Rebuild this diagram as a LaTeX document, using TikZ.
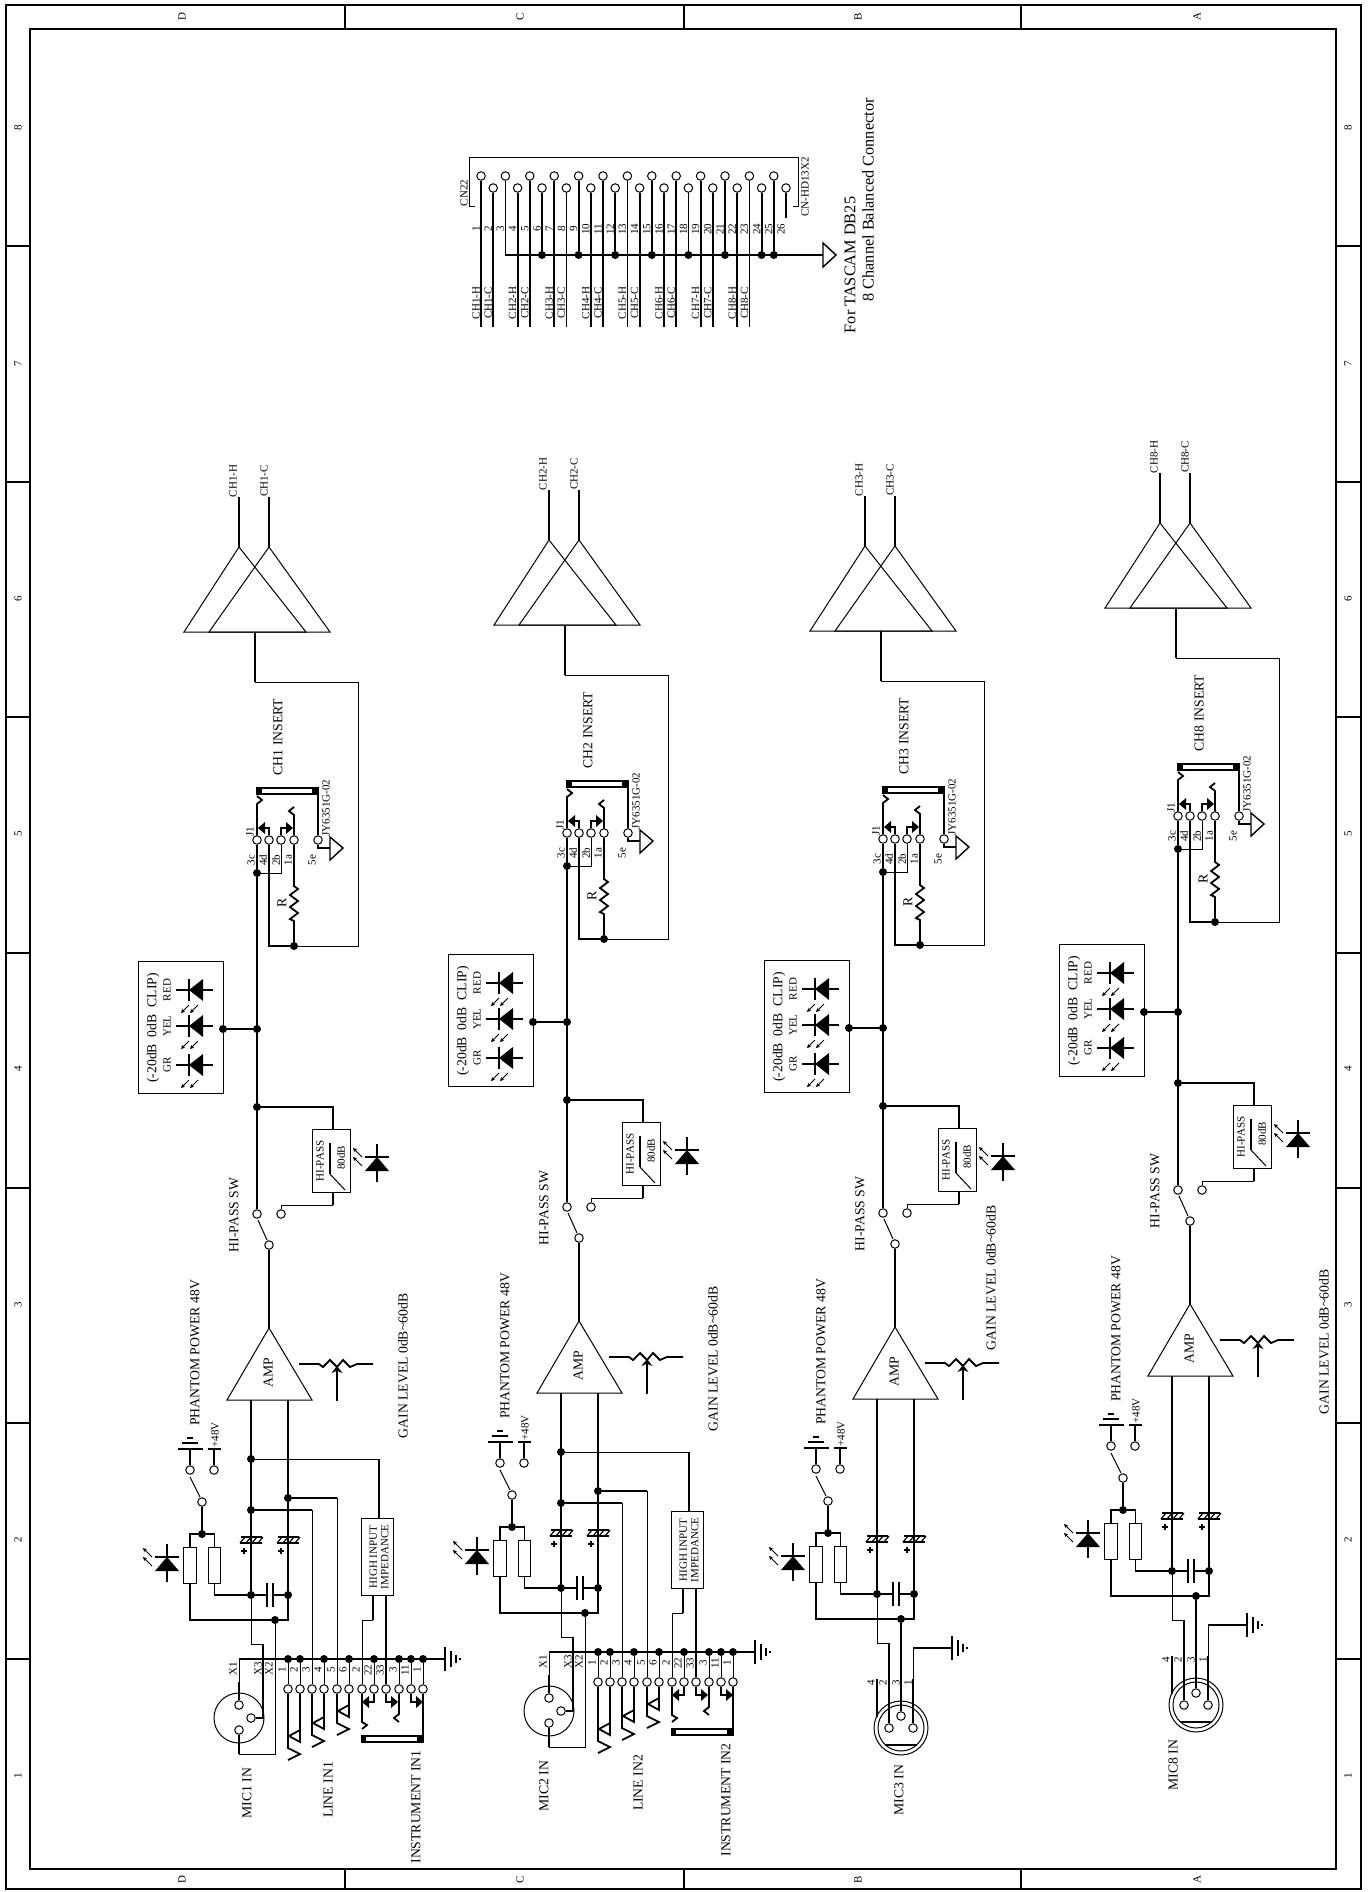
\documentclass[tikz,border=0pt]{standalone}
\usepackage{fontspec}
\setmainfont{Liberation Serif}
\usepackage{tikz}
\usetikzlibrary{arrows.meta}

\tikzset{
    wire/.style={line width=1.8pt},
    thinw/.style={line width=1pt},
    pinc/.style={circle,draw,line width=1pt,fill=white,minimum size=8.5pt,inner sep=0pt},
    jdot/.style={circle,fill=black,minimum size=8pt,inner sep=0pt},
    boxn/.style={draw,line width=0.9pt,inner sep=0pt},
    lab/.style={rotate=90,inner sep=0pt,font=\fontsize{13.7}{14}\selectfont},
    slab/.style={rotate=90,inner sep=0pt,align=center,font=\fontsize{11}{11.5}\selectfont},
    ray/.style={line width=1pt,-{Stealth[length=4pt,width=4pt]}}
}

% diode with its stem upright, light going up and to the left
\newcommand{\sideled}[2]{
    \begin{scope}[shift={(#1,#2)}]
        \draw[wire] (0,-13) -- (0,25);
        \draw[wire] (-12,0) -- (12,0);
        \fill (-12,14) -- (12,14) -- (0,0) -- cycle;
        \draw[ray] (-15,0) -- (-24,-9);
        \draw[ray] (-15,9) -- (-24,0);
    \end{scope}
}
% diode of the level meter, light going down and to the left
\newcommand{\meterled}[2]{
    \begin{scope}[shift={(#1,#2)}]
        \draw[wire] (-13,0) -- (24,0);
        \draw[wire] (0,-11) -- (0,11);
        \fill (0,0) -- (14,-11) -- (14,11) -- cycle;
        \draw[ray] (0,15) -- (-8,23);
        \draw[ray] (9,15) -- (1,23);
    \end{scope}
}
\newcommand{\gndright}[2]{
    \draw[wire] (#1,#2-12) -- (#1,#2+12);
    \draw[wire] (#1+6,#2-8) -- (#1+6,#2+8);
    \draw[wire] (#1+11,#2-4) -- (#1+11,#2+4);
    \draw[wire] (#1+15,#2-1) -- (#1+15,#2+1);
}
\newcommand{\polcap}[1]{
    \draw[wire] (#1-11,1543) -- (#1+11,1543);
    \draw[line width=1.4pt] (#1-10,1537) -- (#1+11,1537);
    \foreach \h in {-9,-3,3,9} \draw[line width=1.2pt] (#1+\h-2,1543) -- (#1+\h+3,1537);
    \draw[wire] (#1-10,1551) -- (#1-4,1551);
    \draw[wire] (#1-7,1548) -- (#1-7,1554);
}

% output stage, insert jack, meter and hi-pass of one channel
\newcommand{\chupper}[4]{
    \coordinate (hot) at (239,547);
    \coordinate (cold) at (269,547);
    \draw[thinw] (184,632) -- (hot) -- (306,632) -- cycle;
    \draw[thinw] (209,632) -- (cold) -- (330,632) -- cycle;
    \draw[wire] (hot) -- ++(0,-50);
    \draw[wire] (cold) -- ++(0,-50);
    \node[slab] (hotlab) at (233,481) {CH#1-H};
    \node[slab] (coldlab) at (264,481) {CH#1-C};
    \node[lab] (inslab) at (278,737) {CH#1 INSERT};
    \node[slab] (jylab) at (326,808) {JY6351G-02};
    \node[slab] (j1lab) at (250,832) {J1};
    \node[slab] (l3c) at (251,860) {3c};
    \node[slab] (l4d) at (263,860) {4d};
    \node[slab] (l2b) at (276,860) {2b};
    \node[slab] (l1a) at (288,860) {1a};
    \node[slab] (l5e) at (312,860) {5e};
    \node[lab] (rlab) at (282,903) {R};
    \node[pinc] (J3c) at (257,840) {};
    \node[pinc] (J4d) at (269,840) {};
    \node[pinc] (J2b) at (281,840) {};
    \node[pinc] (J1a) at (294,840) {};
    \node[pinc] (J5e) at (318,840) {};
    \node[jdot] (jc) at (257,873) {};
    \node[jdot] (rbot) at (294,946) {};
    \node[jdot] (jm) at (257,1029+#4) {};
    \node[jdot] (jh) at (257,1107) {};
    \draw[wire] (255,632) -- (255,682);
    \draw[thinw] (255,682) -- (358,682) -- (358,946) -- (rbot);
    \draw[wire] (J4d) |- (rbot);
    \draw[wire] (J1a) -- (294,886) -- (298,889) -- (290,895) -- (298,901) -- (290,907) -- (298,913) -- (290,919) -- (294,921) -- (rbot);
    \draw[wire] (jc) -- (J3c);
    \draw[thinw] (J2b) |- (jc);
    \draw[wire] (J3c) -- (257,804) -- (262,800) -- (257,796);
    \draw[wire] (J4d) -- (269,828) -- (265,828);
    \fill (265,822) -- (265,834) -- (258,828) -- cycle;
    \draw[wire] (J2b) -- (281,828) -- (286,828);
    \fill (286,822) -- (286,834) -- (293,828) -- cycle;
    \draw[wire] (J1a) -- (294,815) -- (289,811) -- (294,807);
    \draw[wire] (257,788) rectangle (318,794);
    \fill (257,788) rectangle (262,794);
    \fill (312,788) rectangle (318,794);
    \draw[wire] (J5e) -- (318,794);
    \draw[wire] (J5e) |- (330,848);
    \draw[line width=1.4pt] (330,837) -- (343,848) -- (330,860) -- cycle;
    % meter
    \begin{scope}[shift={(0,#4)}]
        \node[boxn,minimum width=85pt,minimum height=132pt] (meter) at (180.5,1027) {};
        \node[jdot] (jb) at (223,1029) {};
        \node[lab] (mlab) at (153,1028) {(-20dB\ \ 0dB\ \ CLIP)};
        \node[slab] (rlab) at (167,990) {RED};
        \node[slab] (ylab) at (167,1026) {YEL};
        \node[slab] (glab) at (167,1065) {GR};
        \meterled{189}{990}
        \meterled{189}{1026}
        \meterled{189}{1065}
    \end{scope}
    \draw[wire] (jb) -- (jm);
    % hi-pass
    \node[pinc] (swa) at (257,1214) {};
    \node[pinc] (swb) at (281,1214) {};
    \node[pinc] (swc) at (269,1245) {};
    \node[boxn,minimum width=38pt,minimum height=63pt] (hpf) at (331,1160.5) {};
    \node[slab] (hplab) at (320,1161) {HI-PASS};
    \node[slab] (dblab) at (341,1158) {80dB};
    \draw[wire] (330,1143) -- (330,1174);
    \draw[thinw] (330,1174) -- (345,1190);
    \draw[wire] (jc) -- (swa);
    \draw[wire] (jh) -| (333,1129);
    \draw[wire] (333,1192) -- (333,1205);
    \draw[thinw] (333,1205) -| (swb);
    \draw[thinw] (258,1220) -- (267,1240);
    \sideled{377}{1157}
    \node[lab] (swlab) at (234,1215) {HI-PASS SW};
    % amp
    \draw[thinw] (227,1400) -- (269,1328) -- (312,1400) -- cycle;
    \draw[wire] (swc) -- (269,1328);
    \node[lab] (amplab) at (268,1373) {AMP};
    \draw[wire] (299,1364) -- (319,1364) -- (323,1367) -- (330,1360) -- (337,1367) -- (343,1360) -- (350,1367) -- (357,1364) -- (373,1364);
    \draw[wire,-{Stealth[length=7pt,width=11pt]}] (337,1401) -- (337,1366);
    \node[lab] (phlab) at (195,1353) {PHANTOM POWER 48V};
    \node[lab] (gainlab) at (#2,#3) {GAIN LEVEL 0dB\textasciitilde60dB};
    % phantom feed and coupling
    \node[pinc] (psg) at (190,1470) {};
    \node[pinc] (psv) at (214,1470) {};
    \node[pinc] (psa) at (202,1502) {};
    \node[jdot] (rj) at (202,1534) {};
    \node[boxn,minimum width=12.5pt,minimum height=36pt] (ra) at (190,1565) {};
    \node[boxn,minimum width=12.5pt,minimum height=36pt] (rb) at (214.5,1565) {};
    \node[jdot] (cl) at (251,1595) {};
    \node[jdot] (cr) at (288,1595) {};
    \node[jdot] (mb) at (275,1620) {};
    \node[slab] (vlab) at (215,1435) {+48V};
    \draw[wire] (psg) -- (190,1449);
    \draw[wire] (178,1449) -- (203,1449);
    \draw[wire] (182,1443) -- (198,1443);
    \draw[wire] (187,1438) -- (193,1438);
    \draw[wire] (psv) -- (214,1449);
    \draw[wire] (208,1449) -- (221,1449);
    \draw[thinw] (190,1477) -- (200,1497);
    \draw[wire] (psa) -- (rj);
    \draw[wire] (rj) -| (ra);
    \draw[wire] (rj) -| (rb);
    \draw[wire] (rb) |- (cl);
    \draw[wire] (ra) |- (mb);
    \draw[wire] (251,1400) -- (cl);
    \draw[wire] (288,1400) -- (cr);
    \draw[wire] (cr) -- (288,1620) -- (mb);
    \draw[wire] (cl) -- (267,1595);
    \draw[wire] (273,1595) -- (cr);
    \draw[wire] (267,1583) -- (267,1607);
    \draw[wire] (273,1583) -- (273,1607);
    \polcap{251}
    \polcap{288}
    \sideled{167}{1557}
}

% ch with xlr, line and instrument jacks
\newcommand{\chfull}[2]{
    \node[jdot] (la) at (251,1459) {};
    \node[jdot] (lb) at (251,1510) {};
    \node[jdot] (lc) at (288,1498) {};
    \node[boxn,minimum width=32pt,minimum height=77pt] (hib) at (377,1556.5) {};
    \node[slab] (hiblab) at (379,1557) {HIGH INPUT\\IMPEDANCE};
    \draw[wire] (239,1659) -- (445,1659);
    \gndright{445}{1659}
    \foreach \k/\pxx/\ptxt in {1/288/1,2/300/2,3/312/3,4/324/4,5/337/5,6/349/6,7/362/2,8/374/22,9/386/33,10/399/3,11/411/11,12/423/1}{
        \node[pinc] (p\k) at (\pxx,1689) {};
        \node[slab] (pl\k) at (\pxx-6,1670) {\ptxt};
    }
    \foreach \k in {1,2,4,6,8,10,11,12}{
        \node[jdot] (b\k) at (p\k |- 0,1659) {};
        \draw[thinw] (b\k) -- (p\k);
    }
    \draw[thinw] (la) -- (379,1459);
    \draw[wire] (379,1459) -- (379,1518);
    \draw[wire] (lb) -- (312,1510);
    \draw[thinw] (312,1510) -- (p3);
    \draw[wire] (lc) -- (337,1498);
    \draw[thinw] (337,1498) -- (p5);
    \draw[wire] (373,1595) -- (373,1620);
    \draw[thinw] (373,1620) -- (362,1620) -- (p7);
    \draw[wire] (386,1595) -- (p9);
    % line jacks
    \draw[wire] (p1) -- (288,1748) -- (300,1754) -- (288,1760);
    \draw[wire] (p2) -- (300,1742) -- (289,1736) -- (300,1730);
    \draw[wire] (p3) -- (312,1735) -- (324,1741) -- (312,1747);
    \draw[wire] (p4) -- (324,1729) -- (313,1723) -- (324,1717);
    \draw[wire] (p5) -- (337,1723) -- (349,1729) -- (337,1735);
    \draw[wire] (p6) -- (349,1717) -- (338,1711) -- (349,1705);
    % instrument jack
    \draw[wire] (p7) -- (362,1722) -- (367,1725) -- (362,1729);
    \draw[wire] (p8) |- (369,1702);
    \fill (369,1696) -- (369,1708) -- (362,1702) -- cycle;
    \draw[wire] (p9) |- (391,1702);
    \fill (391,1696) -- (391,1708) -- (398,1702) -- cycle;
    \draw[wire] (p10) -- (399,1714) -- (394,1718) -- (399,1722);
    \draw[wire] (p11) |- (416,1702);
    \fill (416,1696) -- (416,1708) -- (423,1702) -- cycle;
    \draw[wire] (p12) -- (423,1737);
    \draw[wire] (362,1736) rectangle (423,1742);
    \fill (362,1736) rectangle (366,1742);
    \fill (417,1736) rectangle (423,1742);
    % xlr
    \draw[thinw] (239,1718) circle [radius=25pt];
    \node[pinc] (xa) at (239,1705) {};
    \node[pinc] (xb) at (251,1718) {};
    \node[pinc] (xc) at (239,1730) {};
    \draw[wire] (xa) -- (239,1682);
    \draw[thinw] (239,1682) -- (239,1659);
    \draw[wire] (xb) -- (263,1718) -- (263,1644);
    \draw[thinw] (263,1644) -- (251,1644) -- (cl);
    \draw[wire] (xc) -- (239,1754);
    \draw[thinw] (239,1754) -- (275,1754) -- (mb);
    \node[slab] (x1lab) at (233,1669) {X1};
    \node[slab] (x3lab) at (258,1669) {X3};
    \node[slab] (x2lab) at (269,1669) {X2};
    \node[lab] (miclab) at (#2,1793) {MIC#1 IN};
    \node[lab] (linelab) at (328,1790) {LINE IN#1};
    \node[lab] (instlab) at (416,1807) {INSTRUMENT IN#1};
}

% ch with the four pin xlr only
\newcommand{\chmic}[3]{
    \draw[thinw] (275,1729) circle [radius=27pt];
    \draw[thinw] (275,1729) circle [radius=23pt];
    \draw[wire] (259,1746) -- (291,1746);
    \node[pinc] (xa) at (263,1729) {};
    \node[pinc] (xb) at (275,1717) {};
    \node[pinc] (xc) at (287,1729) {};
    \draw[wire] (251,1718) -- (251,1680);
    \draw[wire] (xa) -- (263,1644);
    \draw[thinw] (263,1644) -- (251,1644) -- (cl);
    \draw[wire] (xb) -- (mb);
    \draw[wire] (xc) -- (287,1680);
    \draw[thinw] (287,1680) -- (287,1649);
    \draw[wire] (287,1649) -- (326,1649);
    \gndright{326}{1649}
    \node[slab] (m4) at (245,1684) {4};
    \node[slab] (m2) at (257,1684) {2};
    \node[slab] (m3) at (270,1684) {3};
    \node[slab] (m1) at (282,1684) {1};
    \node[lab] (miclab) at (#2,#3) {MIC#1 IN};
}

\begin{document}
\begin{tikzpicture}[x=1pt,y=-1pt]
    \useasboundingbox (0,0) rectangle (1369,1892);
    % frame
    \draw[line width=1.1pt] (6,5) rectangle (1361,1889);
    \draw[line width=1.1pt] (30,29) rectangle (1336,1869);
    \foreach \tx in {345,684,1021}{
        \draw[wire] (\tx,5) -- (\tx,29);
        \draw[wire] (\tx,1869) -- (\tx,1889);
    }
    \foreach \ty in {246,482,717,953,1188,1423,1659}{
        \draw[wire] (6,\ty) -- (30,\ty);
        \draw[wire] (1336,\ty) -- (1361,\ty);
    }
    \foreach \tx/\zone in {182/D,520/C,858/B,1197/A}{
        \node[slab] (top\zone) at (\tx,17) {\zone};
        \node[slab] (bot\zone) at (\tx,1880) {\zone};
    }
    \foreach \ty/\zone in {128/8,364/7,599/6,834/5,1069/4,1305/3,1540/2,1776/1}{
        \node[slab] (lft\zone) at (18,\ty) {\zone};
        \node[slab] (rgt\zone) at (1348,\ty) {\zone};
    }
    % db25 header
    \draw[thinw] (475,206) -- (469,206) -- (469,157) -- (798,157) -- (798,206) -- (793,206);
    \node[slab] (cnlab) at (464,193) {CN22};
    \node[slab] (cntype) at (805,187) {CN-HD13X2};
    \foreach \i in {1,...,26}{
        \pgfmathsetmacro{\px}{481+12.2*(\i-1)}
        \pgfmathsetmacro{\py}{isodd(\i)?176:188}
        \node[pinc] (cn\i) at (\px,\py) {};
        \node[slab] (cnl\i) at (\px-5,229) {\i};
    }
    \foreach \i/\sig in {1/CH1-H,2/CH1-C,4/CH2-H,5/CH2-C,7/CH3-H,8/CH3-C,10/CH4-H,11/CH4-C,13/CH5-H,14/CH5-C,16/CH6-H,17/CH6-C,19/CH7-H,20/CH7-C,22/CH8-H,23/CH8-C}{
        \draw[wire] (cn\i) -- (cn\i |- 0,327);
        \path (cn\i |- 0,303) ++(-5,0) node[slab] (sig\i) {\sig};
    }
    \foreach \i in {6,9,12,15,18,21,24,25}{
        \node[jdot] (gd\i) at (cn\i |- 0,255) {};
        \draw[wire] (cn\i) -- (gd\i);
    }
    \draw[wire] (cn26) -- (cn26 |- 0,218);
    \draw[wire] (cn3) |- (823,255);
    \draw[line width=1.4pt] (823,243) -- (836,255) -- (823,267) -- cycle;
    \node[lab,font=\fontsize{16.3}{17}\selectfont] (forlab) at (850,265) {For TASCAM DB25};
    \node[lab,font=\fontsize{16.3}{17}\selectfont] (condlab) at (868,200) {8 Channel Balanced Connector};
    % channels
    \begin{scope}
        \chupper{1}{403}{1366}{0}
        \chfull{1}{247}
    \end{scope}
    \begin{scope}[shift={(310,-7)}]
        \chupper{2}{403}{1366}{0}
        \chfull{2}{234}
    \end{scope}
    \begin{scope}[shift={(626,-1)}]
        \chupper{3}{365}{1279}{0}
        \chmic{3}{273}{1791}
    \end{scope}
    \begin{scope}[shift={(921,-24)}]
        \chupper{8}{403}{1366}{7}
        \chmic{8}{252}{1789}
    \end{scope}
\end{tikzpicture}
\end{document}
